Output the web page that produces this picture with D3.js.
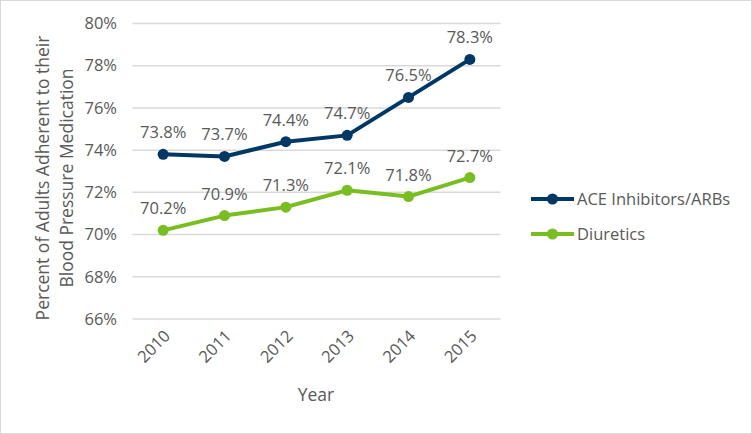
<!DOCTYPE html>
<html><head><meta charset="utf-8">
<script src="https://cdn.jsdelivr.net/npm/d3@7"></script>
<style>body{margin:0;background:#fff}svg{display:block;font-family:"Open Sans","Segoe UI",sans-serif}</style>
</head><body>
<svg id="c" width="752" height="434"></svg>
<script>
const years = ["2010","2011","2012","2013","2014","2015"];
const aceValues = [73.8, 73.7, 74.4, 74.7, 76.5, 78.3];
const diureticValues = [70.2, 70.9, 71.3, 72.1, 71.8, 72.7];
const yTicks = [66, 68, 70, 72, 74, 76, 78, 80];
const seriesNames = ["ACE Inhibitors/ARBs", "Diuretics"];
const seriesColors = ["#003865", "#78BE21"];

const svg = d3.select("#c");
const textColor = "#595959";
const fs = "16.5px";
svg.append("rect").attr("x",0.5).attr("y",0.5).attr("width",751).attr("height",433)
  .attr("fill","#fff").attr("stroke","#D9D9D9");

const x = d3.scaleBand().domain(years).range([132.5, 500.5]);
const y = d3.scaleLinear().domain([66, 80]).range([319, 23.5]);

// gridlines
svg.append("g").selectAll("line").data(yTicks).join("line")
  .attr("x1",132.5).attr("x2",500.5)
  .attr("y1",d=>y(d)).attr("y2",d=>y(d))
  .attr("stroke","#D9D9D9").attr("stroke-width",1.5);

// y axis
const yAxis = svg.append("g").attr("transform","translate(117,0)")
  .call(d3.axisLeft(y).tickValues(yTicks).tickFormat(d=>d+"%").tickSize(0).tickPadding(0));
yAxis.select(".domain").remove();
yAxis.selectAll("text").attr("fill",textColor).style("font-size",fs).attr("font-family","Open Sans, sans-serif");

// x axis
const xAxis = svg.append("g").attr("transform","translate(0,319)")
  .call(d3.axisBottom(x).tickSize(0).tickPadding(0));
xAxis.select(".domain").remove();
xAxis.selectAll("text").attr("fill",textColor).style("font-size",fs)
  .attr("font-family","Open Sans, sans-serif")
  .attr("text-anchor","end").attr("dy",0)
  .attr("transform","translate(8,18) rotate(-45)");

// axis titles
svg.append("text").attr("x",316).attr("y",401).attr("text-anchor","middle")
  .attr("fill",textColor).style("font-size","17.5px").text("Year");
const yt = svg.append("text").attr("transform","translate(54,178) rotate(-90)")
  .attr("text-anchor","middle").attr("fill",textColor).style("font-size","17.5px");
yt.append("tspan").attr("x",0).attr("dy","-0.3em").text("Percent of Adults Adherent to their");
yt.append("tspan").attr("x",0).attr("dy","1.38em").text("Blood Pressure Medication");

const series = [aceValues, diureticValues];
const line = d3.line().x((d,i)=>x(years[i])+x.bandwidth()/2).y(d=>y(d));
series.forEach((vals,si)=>{
  const g = svg.append("g");
  g.append("path").datum(vals).attr("d",line).attr("fill","none")
    .attr("stroke",seriesColors[si]).attr("stroke-width",4).attr("stroke-linejoin","round");
  g.selectAll("circle").data(vals).join("circle")
    .attr("cx",(d,i)=>x(years[i])+x.bandwidth()/2).attr("cy",d=>y(d)).attr("r",5.5)
    .attr("fill",seriesColors[si]);
  g.selectAll("text").data(vals).join("text")
    .attr("x",(d,i)=>x(years[i])+x.bandwidth()/2).attr("y",d=>y(d)-16)
    .attr("text-anchor","middle").attr("fill",textColor).style("font-size",fs)
    .text(d=>d.toFixed(1)+"%");
});

// legend
seriesNames.forEach((n,i)=>{
  const ly = 199 + i*35;
  const g = svg.append("g");
  g.append("line").attr("x1",531).attr("x2",574).attr("y1",ly).attr("y2",ly)
    .attr("stroke",seriesColors[i]).attr("stroke-width",4);
  g.append("circle").attr("cx",552.5).attr("cy",ly).attr("r",5.5).attr("fill",seriesColors[i]);
  g.append("text").attr("x",577).attr("y",ly).attr("dy","0.35em").attr("fill",textColor)
    .style("font-size",fs).text(n);
});
</script>
</body></html>
